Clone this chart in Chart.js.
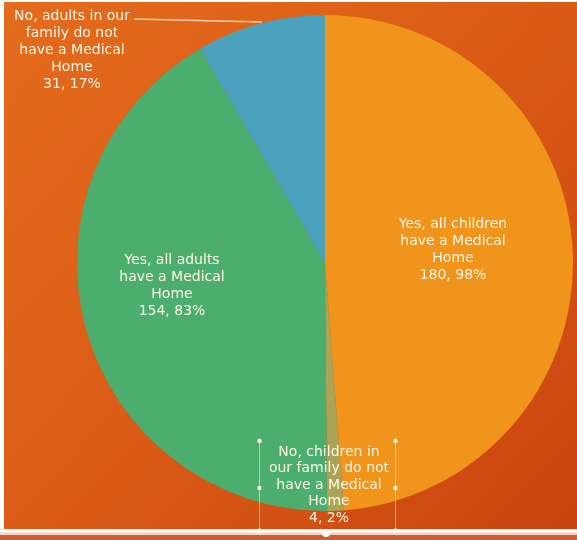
<!DOCTYPE html>
<html>
<head>
<meta charset="utf-8">
<script src="https://cdn.jsdelivr.net/npm/chart.js@4/dist/chart.umd.min.js"></script>
<style>
  html, body { margin: 0; padding: 0; background: #ffffff; }
  #wrap { position: relative; width: 577px; height: 540px; }
</style>
</head>
<body>
<div id="wrap"><canvas id="pie" width="577" height="540"></canvas></div>
<script>
// Medical Home survey: children and adults answers in one pie
const categories = [
  'Yes, all children have a Medical Home',
  'No, children in our family do not have a Medical Home',
  'Yes, all adults have a Medical Home',
  'No, adults in our family do not have a Medical Home'
];
const counts = [180, 4, 154, 31];
const percents = [98, 2, 83, 17];
const labelLines = [
  ['Yes, all children', 'have a Medical', 'Home'],
  ['No, children in', 'our family do not', 'have a Medical', 'Home'],
  ['Yes, all adults', 'have a Medical', 'Home'],
  ['No, adults in our', 'family do not', 'have a Medical', 'Home']
];
const sliceColors = ['#f0941b', '#a9a456', '#4bad6e', '#4ba2bd'];

// where each text block sits (centre x, first line y, line gap)
const labelLayout = [
  { x: 453, y: 224, gap: 17 },
  { x: 329, y: 452, gap: 16.5 },
  { x: 172, y: 260, gap: 17 },
  { x: 72,  y: 16,  gap: 17 }
];

const backdrop = {
  id: 'backdrop',
  beforeDraw(chart) {
    const ctx = chart.ctx;
    const W = chart.width, H = chart.height;
    ctx.save();
    ctx.fillStyle = '#ffffff';
    ctx.fillRect(0, 0, W, H);
    const g = ctx.createLinearGradient(0, 0, W, H);
    g.addColorStop(0, '#e46c1d');
    g.addColorStop(0.5, '#da5b16');
    g.addColorStop(1, '#c9430f');
    ctx.fillStyle = g;
    ctx.fillRect(4, 2, W - 4, H - 2);
    ctx.restore();
  },
  afterDraw(chart) {
    const ctx = chart.ctx;
    const W = chart.width;
    ctx.save();
    // caption text
    ctx.fillStyle = '#fff6e6';
    ctx.font = '14px "DejaVu Sans", sans-serif';
    ctx.textAlign = 'center';
    ctx.textBaseline = 'middle';
    labelLines.forEach((lines, i) => {
      const L = labelLayout[i];
      const all = lines.concat([counts[i] + ', ' + percents[i] + '%']);
      all.forEach((t, k) => ctx.fillText(t, L.x, L.y + k * L.gap));
    });
    // leader for the top-left caption
    const arc = chart.getDatasetMeta(0).data[3];
    ctx.strokeStyle = 'rgba(255,225,200,0.85)';
    ctx.lineWidth = 1.5;
    ctx.beginPath();
    ctx.moveTo(134, 19);
    ctx.lineTo(arc.x - 63, 22);
    ctx.stroke();

    // selection frame around the bottom caption
    ctx.strokeStyle = 'rgba(255,235,220,0.55)';
    ctx.lineWidth = 1;
    ctx.beginPath();
    ctx.moveTo(259.5, 438); ctx.lineTo(259.5, 540);
    ctx.moveTo(395.5, 438); ctx.lineTo(395.5, 540);
    ctx.stroke();
    ctx.fillStyle = '#fff4ea';
    [[259.5, 441], [395.5, 441], [259.5, 488], [395.5, 488]].forEach(p => {
      ctx.beginPath(); ctx.arc(p[0], p[1], 2.2, 0, Math.PI * 2); ctx.fill();
    });

    // bottom rule
    ctx.fillStyle = '#c8603a';
    ctx.fillRect(0, 533, W, 7);
    ctx.fillStyle = '#fbe3d6';
    ctx.fillRect(0, 529, W, 4);
    ctx.fillStyle = '#ffffff';
    ctx.fillRect(0, 530, W, 2);
    ctx.fillStyle = '#f6d2c0';
    ctx.fillRect(0, 533, W, 2);
    ctx.fillStyle = '#ffffff';
    [[259.5, 531, 2.5], [395.5, 531, 2.5], [326, 533, 4]].forEach(p => {
      ctx.beginPath(); ctx.arc(p[0], p[1], p[2], 0, Math.PI * 2); ctx.fill();
    });
    ctx.restore();
  }
};

new Chart(document.getElementById('pie'), {
  type: 'pie',
  data: {
    labels: categories,
    datasets: [{
      data: counts,
      backgroundColor: sliceColors,
      borderWidth: 0
    }]
  },
  options: {
    responsive: false,
    animation: false,
    layout: { padding: { left: 77, right: 4, top: 15, bottom: 29 } },
    plugins: {
      legend: { display: false },
      tooltip: { enabled: false }
    }
  },
  plugins: [backdrop]
});
</script>
</body>
</html>
